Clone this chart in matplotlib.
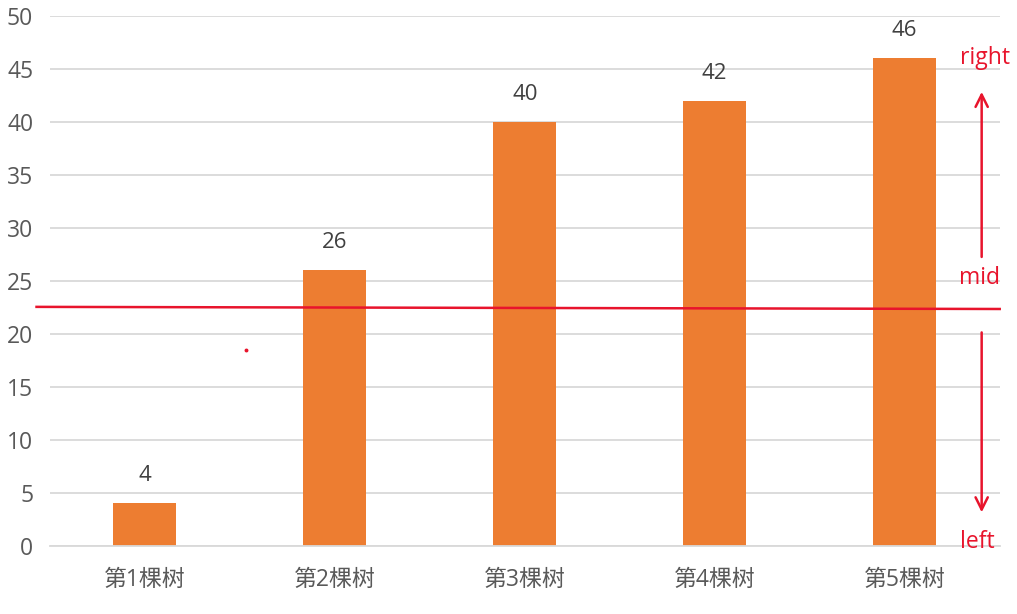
import matplotlib
matplotlib.use("Agg")
import matplotlib.pyplot as plt

categories = ["第1棵树", "第2棵树", "第3棵树", "第4棵树", "第5棵树"]
values = [4, 26, 40, 42, 46]
y_ticks = list(range(0, 51, 5))
mid_line = (22.55, 22.35)   # red line, left end / right end
stray_dot = (0.53, 18.5)

plt.rcParams["font.family"] = ["Open Sans", "Noto Sans CJK SC", "DejaVu Sans"]

RED = "#E8142C"
ORANGE = "#ED7D31"
GRAY = "#595959"

fig = plt.figure(figsize=(10.17, 6.14), dpi=100)
ax = fig.add_axes([0.049, 0.111, 0.934, 0.863])

x = list(range(len(categories)))
ax.bar(x, values, width=0.33, color=ORANGE, zorder=2)
for xi, v in zip(x, values):
    ax.text(xi, v + 2.6, str(v), ha="center", va="center", fontsize=16, color="#404040")

ax.set_xlim(-0.5, len(categories) - 0.5)
ax.set_ylim(0, 50)
ax.set_yticks(y_ticks)
ax.set_xticks(x)
ax.set_xticklabels(categories, fontsize=16.5, color=GRAY)
ax.tick_params(axis="y", labelsize=16.5, labelcolor=GRAY, length=0, pad=12)
ax.tick_params(axis="x", length=0, pad=16)
ax.grid(axis="y", color="#D9D9D9", lw=1.3, zorder=0)
for s in ["top", "right", "left"]:
    ax.spines[s].set_visible(False)
ax.spines["bottom"].set_color("#D9D9D9")
ax.spines["bottom"].set_linewidth(1.3)

# red annotation line, reaching slightly left of the plot
ax.plot([-0.57, 4.5], list(mid_line), color=RED, lw=1.8, zorder=3, clip_on=False)
ax.plot([stray_dot[0]], [stray_dot[1]], marker="o", ms=1.8, color=RED, zorder=3)

# arrows and labels on the right
ax.annotate("", xy=(4.405, 43.1), xytext=(4.405, 27.0),
            arrowprops=dict(arrowstyle="->", color=RED, lw=1.8, mutation_scale=22))
ax.annotate("", xy=(4.405, 2.9), xytext=(4.405, 20.4),
            arrowprops=dict(arrowstyle="->", color=RED, lw=1.8, mutation_scale=22))
ax.text(4.42, 46.0, "right", color=RED, fontsize=16.5, ha="center", va="center")
ax.text(4.395, 25.3, "mid", color=RED, fontsize=16.5, ha="center", va="center")
ax.text(4.38, 0.4, "left", color=RED, fontsize=16.5, ha="center", va="center")

fig.savefig("out.png", dpi=100)
